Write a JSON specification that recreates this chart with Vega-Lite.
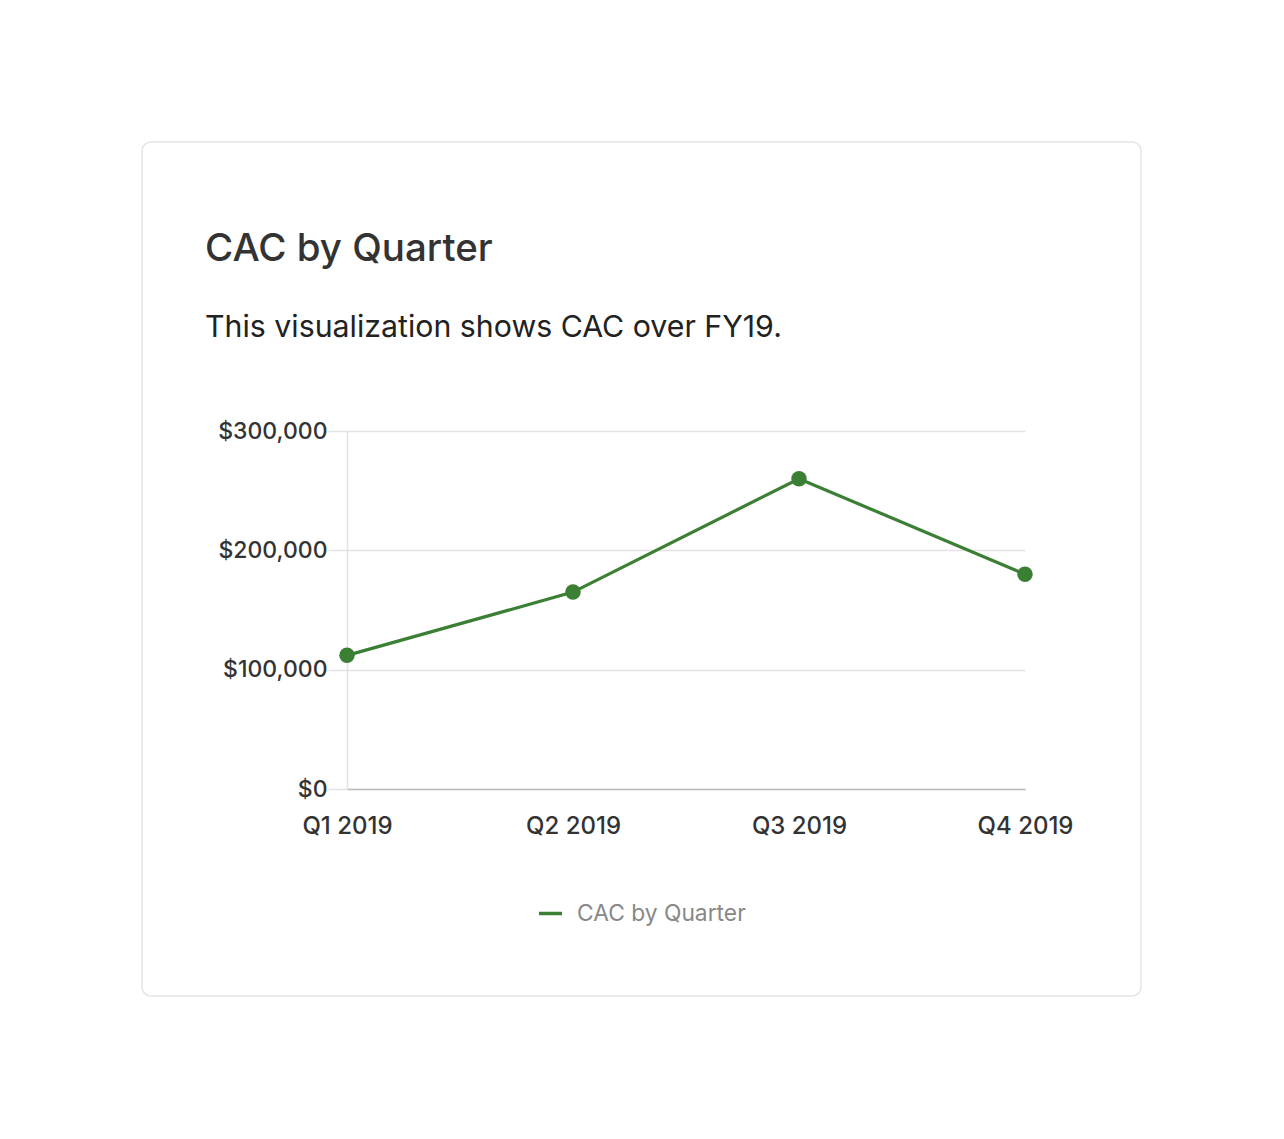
{
  "$schema": "https://vega.github.io/schema/vega-lite/v6.json",
  "autosize": {"type": "none"},
  "width": 999,
  "height": 854,
  "padding": {"left": 142, "top": 142, "right": 143, "bottom": 143},
  "background": "#ffffff",
  "title": {
    "text": "CAC by Quarter",
    "subtitle": "This visualization shows CAC over FY19.",
    "anchor": "start",
    "frame": "group",
    "orient": "top",
    "dx": 63,
    "offset": -202,
    "font": "Inter",
    "fontSize": 38.5,
    "fontWeight": 500,
    "color": "#333333",
    "subtitleFont": "Inter",
    "subtitleFontSize": 30.3,
    "subtitleFontWeight": 400,
    "subtitleColor": "#222222",
    "subtitlePadding": 43
  },
  "data": {
    "values": [
      {"quarter": "Q1 2019", "cac": 112000, "series": "CAC by Quarter"},
      {"quarter": "Q2 2019", "cac": 165000, "series": "CAC by Quarter"},
      {"quarter": "Q3 2019", "cac": 260000, "series": "CAC by Quarter"},
      {"quarter": "Q4 2019", "cac": 180000, "series": "CAC by Quarter"}
    ]
  },
  "encoding": {
    "x": {
      "field": "quarter",
      "type": "ordinal",
      "sort": null,
      "scale": {"type": "point", "range": [205, 883], "padding": 0},
      "axis": {
        "title": null,
        "orient": "bottom",
        "offset": -207,
        "grid": false,
        "ticks": false,
        "tickSize": 0,
        "labelPadding": 25,
        "labelAngle": 0,
        "labelFont": "Inter",
        "labelFontSize": 24,
        "labelFontWeight": 500,
        "labelColor": "#333333",
        "domainColor": "#bdbdbd",
        "domainWidth": 1.5
      }
    },
    "y": {
      "field": "cac",
      "type": "quantitative",
      "scale": {"domain": [0, 300000], "range": [647, 289], "nice": false, "zero": true},
      "axis": {
        "title": null,
        "offset": -205,
        "values": [0, 100000, 200000, 300000],
        "format": "$,.0f",
        "grid": true,
        "gridColor": "#e3e3e6",
        "gridWidth": 1.5,
        "domainColor": "#e3e3e6",
        "domainWidth": 1.5,
        "tickColor": "#e3e3e6",
        "tickWidth": 1.5,
        "tickSize": 19,
        "labelPadding": 1,
        "labelFont": "Inter",
        "labelFontSize": 23,
        "labelFontWeight": 500,
        "labelColor": "#333333"
      }
    }
  },
  "layer": [
    {
      "mark": {"type": "line", "strokeWidth": 3.2},
      "encoding": {
        "color": {
          "field": "series",
          "type": "nominal",
          "scale": {"range": ["#3a7f34"]},
          "legend": {
            "title": null,
            "orient": "none",
            "legendX": 395,
            "legendY": 758,
            "direction": "horizontal",
            "padding": 0,
            "symbolType": "stroke",
            "symbolSize": 529,
            "symbolStrokeWidth": 3.5,
            "labelOffset": 13,
            "labelLimit": 400,
            "labelFont": "Inter",
            "labelFontSize": 22.8,
            "labelColor": "#888888"
          }
        }
      }
    },
    {
      "mark": {"type": "circle", "size": 240, "opacity": 1, "color": "#3a7f34"}
    }
  ],
  "config": {
    "view": {"stroke": "#e4e4ea", "strokeWidth": 1.5, "cornerRadius": 9, "fill": "#ffffff"},
    "font": "Inter"
  }
}
